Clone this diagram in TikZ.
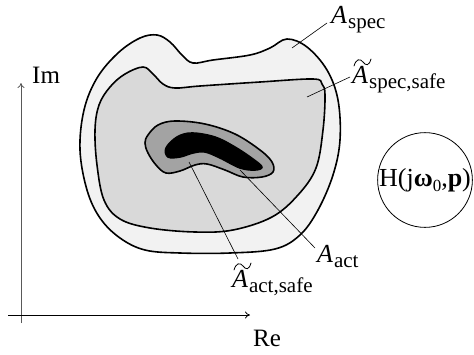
\documentclass[tikz,border=0pt]{standalone}
\usepackage{fontspec}
\setmainfont{Liberation Serif}
\usetikzlibrary{arrows.meta}
\definecolor{specfill}{gray}{0.95}
\definecolor{safefill}{gray}{0.85}
\definecolor{actsafefill}{gray}{0.64}
\definecolor{axisgray}{gray}{0.35}
\newcommand{\mysub}[1]{\hspace{1pt}\raisebox{-5pt}{\fontsize{21}{21}\selectfont\upshape #1}}
\begin{document}
\begin{tikzpicture}[x=1pt,y=-1pt,
  region/.style={draw=black,line width=1.6pt,line join=round},
  leader/.style={draw=black,line width=0.6pt},
  tildestroke/.style={draw=black,line width=0.8pt,line cap=round},
  axis/.style={line width=0.8pt,-{To[length=5pt,width=7pt]}},
  lbl/.style={anchor=base west,inner sep=0pt,font=\fontsize{26}{28}\selectfont},
  txt/.style={anchor=base west,inner sep=0pt,font=\fontsize{25}{26}\selectfont}]
\useasboundingbox (0,0) rectangle (474,354);
% regions
\path[region,fill=specfill] plot[smooth cycle,tension=0.6] coordinates {
 (157,35) (170,42) (182,55) (193,63) (213,60) (250,55) (270,48) (287,39)
 (307,47) (327,70) (338,100) (340,140) (333,175) (318,210) (300,235)
 (275,249) (230,253) (180,253) (145,250) (120,238) (100,218) (87,190)
 (80,150) (84,110) (97,78) (118,53) (140,38)};
\path[region,fill=safefill] plot[smooth cycle,tension=0.6] coordinates {
 (143,67) (153,74) (163,84) (175,88) (200,86) (260,82) (313,79) (322,84)
 (325,95) (323,130) (316,168) (298,195) (272,217) (233,230) (195,232)
 (150,228) (120,219) (104,200) (97,165) (95,130) (99,105) (110,87) (125,74)};
\path[region,fill=actsafefill] plot[smooth cycle,tension=0.6] coordinates {
 (148,135) (158,125) (175,121) (205,124) (235,134) (260,150) (272,162)
 (273,172) (262,177) (243,177) (225,170) (207,164) (195,165) (180,171)
 (166,173) (156,165) (148,153) (145,143)};
\path[region,fill=black] plot[smooth cycle,tension=0.6] coordinates {
 (166,148) (177,137) (192,133) (215,137) (235,147) (253,159) (262,167)
 (255,170) (240,168) (220,158) (205,152) (193,153) (180,157) (168,157)};
% labels
\node[lbl] (aspec) at (331,23) {\itshape A\mysub{spec}};
\node[lbl] (aspecsafe) at (352,83) {\itshape A\mysub{spec,safe}};
\node[lbl] (aact) at (317,262) {\itshape A\mysub{act}};
\node[lbl] (aactsafe) at (232,287) {\itshape A\mysub{act,safe}};
% tildes over the A's
\begin{scope}[shift={(aspecsafe.base west)}]
  \draw[tildestroke] (2,-17) .. controls (4,-24) and (8,-25) .. (11,-21)
     .. controls (14,-17) and (17,-17) .. (19,-24);
\end{scope}
\begin{scope}[shift={(aactsafe.base west)}]
  \draw[tildestroke] (2,-17) .. controls (4,-24) and (8,-25) .. (11,-21)
     .. controls (14,-17) and (17,-17) .. (19,-24);
\end{scope}
% leader lines
\coordinate (pspec) at (292,48);   \coordinate (qspec) at (327,23);
\coordinate (pss) at (307,97);     \coordinate (qss) at (350,77);
\coordinate (pact) at (240,170);   \coordinate (qact) at (315,248);
\coordinate (pas) at (189,162);    \coordinate (qas) at (238,259);
\draw[leader] (pspec) -- (qspec);
\draw[leader] (pss) -- (qss);
\draw[leader] (pact) -- (qact);
\draw[leader] (pas) -- (qas);
% axes
\coordinate (o1) at (21,323); \coordinate (imtip) at (21,83);
\coordinate (o2) at (8,315);  \coordinate (retip) at (250,315);
\draw[axis,draw=axisgray] (o1) -- (imtip);
\draw[axis] (o2) -- (retip);
\node[txt] (im) at (32,83) {Im};
\node[txt] (re) at (253,346) {Re};
% circle
\node[draw,circle,line width=0.8pt,minimum size=94pt,inner sep=0pt,
  font=\fontsize{26}{28}\selectfont] (h) at (425,180)
  {H(j\textbf{ω}\raisebox{-5pt}{\fontsize{17}{17}\selectfont 0},\textbf{p})};
\end{tikzpicture}
\end{document}
